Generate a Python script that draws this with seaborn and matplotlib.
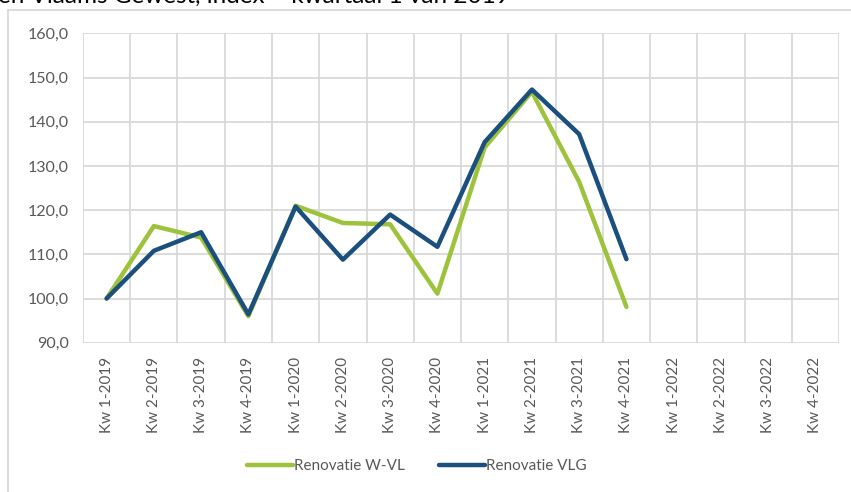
import matplotlib
matplotlib.use('Agg')
import matplotlib.pyplot as plt
from matplotlib.lines import Line2D
from matplotlib.ticker import FixedLocator
import seaborn as sns
import pandas as pd

sns.set_style('white')
plt.rcParams['font.family'] = ['Lato', 'DejaVu Sans']

# data
quarters = ['Kw 1-2019', 'Kw 2-2019', 'Kw 3-2019', 'Kw 4-2019',
            'Kw 1-2020', 'Kw 2-2020', 'Kw 3-2020', 'Kw 4-2020',
            'Kw 1-2021', 'Kw 2-2021', 'Kw 3-2021', 'Kw 4-2021',
            'Kw 1-2022', 'Kw 2-2022', 'Kw 3-2022', 'Kw 4-2022']
renovatie_wvl = [100.0, 116.4, 113.8, 96.0, 121.0, 117.1, 116.8, 101.1,
                 134.2, 146.8, 126.4, 98.1]
renovatie_vlg = [100.0, 110.8, 115.0, 96.4, 120.8, 108.8, 119.0, 111.7,
                 135.4, 147.3, 137.2, 108.9]
series_names = ['Renovatie W-VL', 'Renovatie VLG']
colors = ['#9DC23B', '#1B4F7E']

rows = []
for name, vals in zip(series_names, [renovatie_wvl, renovatie_vlg]):
    for i, v in enumerate(vals):
        rows.append([name, i, v])
df = pd.DataFrame(rows, columns=['serie', 'pos', 'index'])

fig = plt.figure(figsize=(8.51, 4.92), dpi=100)
ax = fig.add_axes([0.0975, 0.3035, 0.8885, 0.6285])

sns.lineplot(data=df, x='pos', y='index', hue='serie', palette=colors,
             linewidth=3.2, ax=ax, legend=False, zorder=3)

# axes
ax.set_xlim(-0.5, len(quarters) - 0.5)
ax.set_ylim(90, 160)
ax.set_yticks(range(90, 161, 10))
ax.set_yticklabels(['{:.1f}'.format(v).replace('.', ',') for v in range(90, 161, 10)],
                   color='#595959', fontsize=11.5)
ax.set_xticks(range(len(quarters)))
ax.set_xticklabels(quarters, rotation=90, color='#595959', fontsize=11)
ax.xaxis.set_minor_locator(FixedLocator([i - 0.5 for i in range(len(quarters) + 1)]))
ax.tick_params(axis='both', which='both', length=0)
ax.tick_params(axis='x', pad=10)
ax.tick_params(axis='y', pad=10)
ax.grid(True, axis='y', which='major', color='#D9D9D9', linewidth=1.3)
ax.grid(True, axis='x', which='minor', color='#D9D9D9', linewidth=1.3)
ax.grid(False, axis='x', which='major')
for s in ax.spines.values():
    s.set_visible(False)
ax.set_xlabel('')
ax.set_ylabel('')

# legend
handles = [Line2D([0], [0], color=c, linewidth=3.2) for c in colors]
fig.legend(handles, series_names, loc='center', bbox_to_anchor=(0.49, 0.052),
           ncol=2, frameon=False, fontsize=11, handlelength=3.0,
           handletextpad=0.1, columnspacing=2.2, labelcolor='#595959')

# chart frame and title (cut off at the top, as in the source)
fig.add_artist(Line2D([8 / 851, 1.0], [1 - 10 / 492, 1 - 10 / 492],
                      color='#D9D9D9', linewidth=1.3))
fig.add_artist(Line2D([8 / 851, 8 / 851], [0.0, 1 - 10 / 492],
                      color='#D9D9D9', linewidth=1.3))
fig.text(-0.002, 1 - 3 / 492, 'en Vlaams Gewest, index = kwartaal 1 van 2019',
         fontsize=17.5, color='#000000', va='baseline', ha='left')

plt.savefig('out.png', dpi=100)
